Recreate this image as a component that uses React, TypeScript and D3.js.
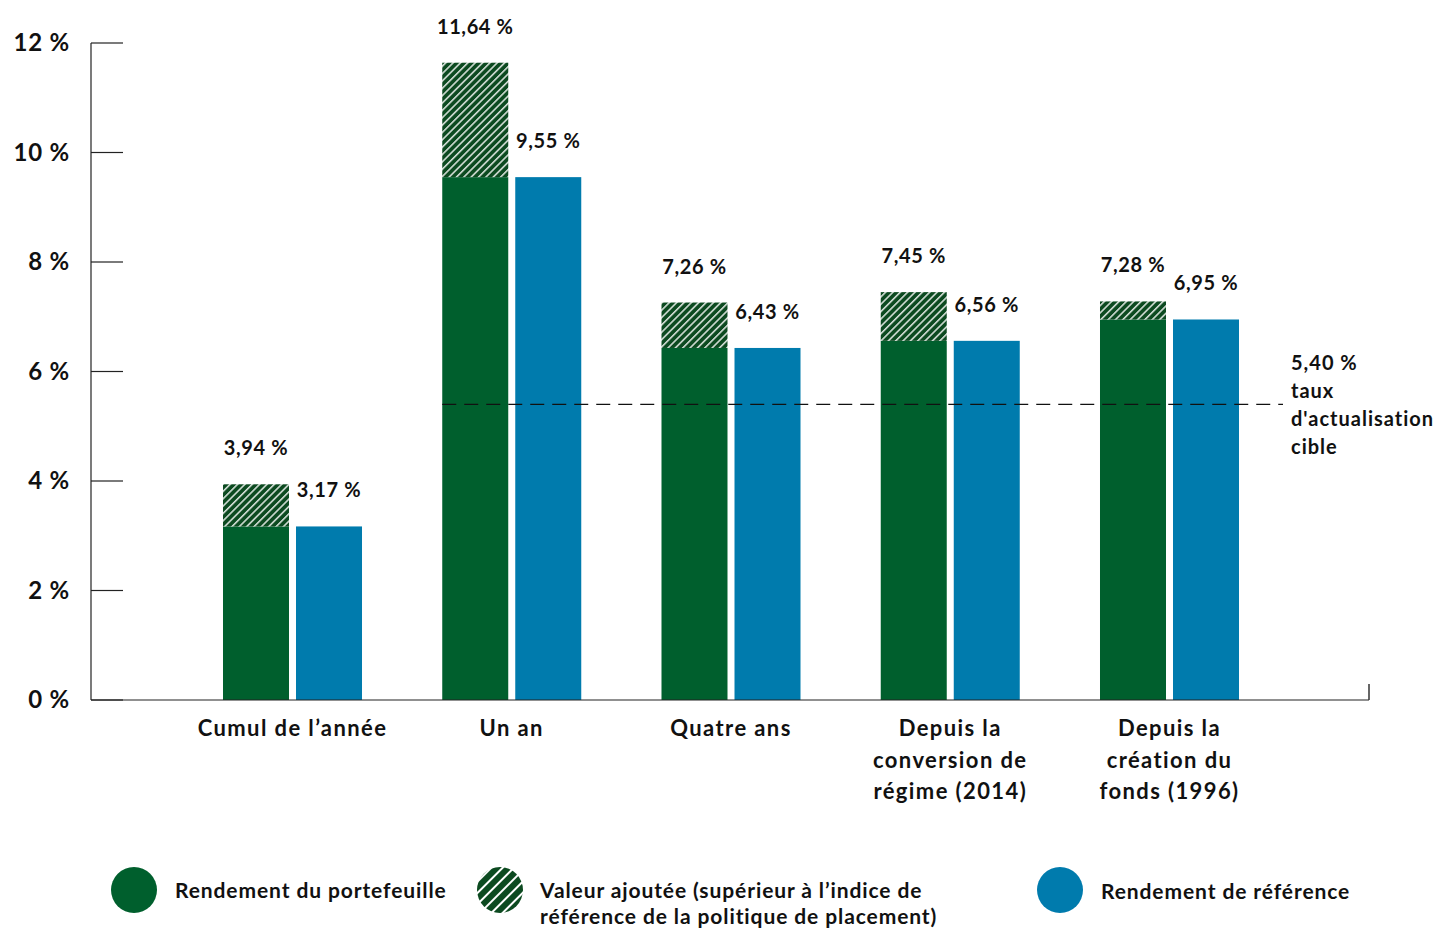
import React from "react";
import * as d3 from "d3";

const categories: string[][] = [
  ["Cumul de l’année"],
  ["Un an"],
  ["Quatre ans"],
  ["Depuis la", "conversion de", "régime (2014)"],
  ["Depuis la", "création du", "fonds (1996)"],
];
const portfolio = [3.94, 11.64, 7.26, 7.45, 7.28];
const benchmark = [3.17, 9.55, 6.43, 6.56, 6.95];
const yTicks = [0, 2, 4, 6, 8, 10, 12];
const target = 5.4;
const targetLines = ["5,40 %", "taux", "d'actualisation", "cible"];
const legendItems = [
  { key: "portfolio", lines: ["Rendement du portefeuille"] },
  { key: "added", lines: ["Valeur ajoutée (supérieur à l’indice de", "référence de la politique de placement)"] },
  { key: "benchmark", lines: ["Rendement de référence"] },
];

const GREEN = "#005f2d";
const HATCH_BG = "#0c4a20";
const BLUE = "#007bad";
const FONT = "Lato, 'Open Sans', sans-serif";

const fmt = (v: number) => v.toFixed(2).replace(".", ",") + " %";

export default function App() {
  const W = 1440;
  const H = 928;
  const y = d3.scaleLinear().domain([0, 12]).range([700, 43]);
  const x = d3
    .scaleBand<number>()
    .domain(d3.range(categories.length))
    .range([182.875, 1279.125])
    .paddingInner(0.366)
    .paddingOuter(0.183);
  const sub = d3
    .scaleBand<string>()
    .domain(["p", "b"])
    .range([0, x.bandwidth()])
    .paddingInner(0.096)
    .paddingOuter(0);
  const bw = sub.bandwidth();
  const axisX0 = 91;
  const axisX1 = 1369;

  return (
    <svg width={W} height={H} style={{ display: "block", position: "absolute", left: 0, top: 0 }} fontFamily={FONT}>
      <defs>
        <pattern id="hatch" patternUnits="userSpaceOnUse" width={5.2} height={5.2} patternTransform="rotate(45)">
          <rect width={5.2} height={5.2} fill={HATCH_BG} />
          <line x1={0.8} y1={0} x2={0.8} y2={5.2} stroke="#ffffff" strokeWidth={1.3} />
        </pattern>
        <pattern id="hatchLegend" patternUnits="userSpaceOnUse" width={8} height={8} patternTransform="rotate(45)">
          <rect width={8} height={8} fill={HATCH_BG} />
          <line x1={1} y1={0} x2={1} y2={8} stroke="#ffffff" strokeWidth={2} />
        </pattern>
      </defs>

      {/* y axis */}
      <line x1={axisX0} x2={axisX0} y1={y(12)} y2={y(0)} stroke="#222" strokeWidth={1.2} />
      {yTicks.map((t) => (
        <g key={t}>
          <line x1={axisX0} x2={123} y1={y(t)} y2={y(t)} stroke="#222" strokeWidth={1.2} />
          <text x={70} y={y(t)} dy="0.35em" textAnchor="end" fontSize={24} fontWeight={700} fill="#111" letterSpacing={0.8}>
            {t} %
          </text>
        </g>
      ))}

      {/* bars */}
      {categories.map((c, i) => {
        const gx = x(i)!;
        const px = gx + sub("p")!;
        const bx = gx + sub("b")!;
        return (
          <g key={i}>
            <rect x={px} width={bw} y={y(benchmark[i])} height={y(0) - y(benchmark[i])} fill={GREEN} />
            <rect x={px} width={bw} y={y(portfolio[i])} height={y(benchmark[i]) - y(portfolio[i])} fill="url(#hatch)" />
            <rect x={bx} width={bw} y={y(benchmark[i])} height={y(0) - y(benchmark[i])} fill={BLUE} />
            <text x={px + bw / 2} y={y(portfolio[i]) - 29} textAnchor="middle" fontSize={20} fontWeight={700} fill="#111" letterSpacing={0.6}>
              {fmt(portfolio[i])}
            </text>
            <text x={bx + bw / 2} y={y(benchmark[i]) - 29} textAnchor="middle" fontSize={20} fontWeight={700} fill="#111" letterSpacing={0.6}>
              {fmt(benchmark[i])}
            </text>
            {c.map((line, j) => (
              <text key={j} x={gx + x.bandwidth() / 2} y={736 + j * 31.5} textAnchor="middle" fontSize={22} fontWeight={700} fill="#111" letterSpacing={1.4}>
                {line}
              </text>
            ))}
          </g>
        );
      })}

      {/* x axis */}
      <line x1={axisX0} x2={axisX1} y1={y(0)} y2={y(0)} stroke="#222" strokeWidth={1.2} />
      <line x1={axisX1} x2={axisX1} y1={y(0) - 16} y2={y(0)} stroke="#333" strokeWidth={1.5} />

      {/* target line */}
      <line
        x1={x(1)!}
        x2={1283}
        y1={y(target)}
        y2={y(target)}
        stroke="#111"
        strokeWidth={1.2}
        strokeDasharray="14,8"
      />
      {targetLines.map((t, j) => (
        <text key={j} x={1291} y={370 + j * 28} fontSize={20} fontWeight={700} fill="#111" letterSpacing={1.0}>
          {t}
        </text>
      ))}

      {/* legend */}
      <circle cx={134} cy={890} r={23} fill={GREEN} />
      <circle cx={500} cy={890} r={23} fill="url(#hatchLegend)" />
      <circle cx={1060} cy={890} r={23} fill={BLUE} />
      {legendItems[0].lines.map((l, j) => (
        <text key={j} x={175} y={898 + j * 26} fontSize={21} fontWeight={700} fill="#111" letterSpacing={0.9}>{l}</text>
      ))}
      {legendItems[1].lines.map((l, j) => (
        <text key={j} x={540} y={898 + j * 26} fontSize={21} fontWeight={700} fill="#111" letterSpacing={0.9}>{l}</text>
      ))}
      {legendItems[2].lines.map((l, j) => (
        <text key={j} x={1101} y={899 + j * 26} fontSize={21} fontWeight={700} fill="#111" letterSpacing={0.9}>{l}</text>
      ))}
    </svg>
  );
}
